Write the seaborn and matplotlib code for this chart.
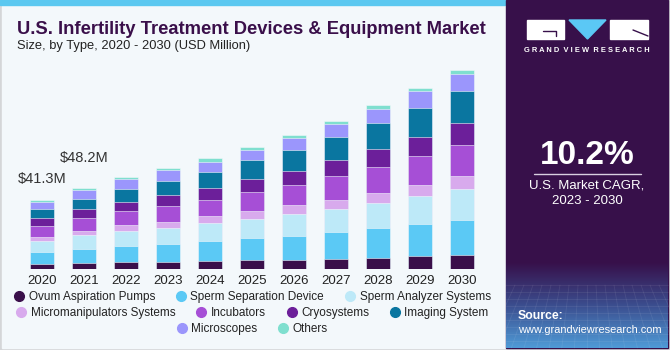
import numpy as np
import pandas as pd
import seaborn as sns
import matplotlib.pyplot as plt
from matplotlib.patches import Rectangle, Polygon
from matplotlib.lines import Line2D
from matplotlib.colors import LinearSegmentedColormap

# Data (USD Million)
years = [str(y) for y in range(2020, 2031)]
ovum = [2.7, 3.6, 4.0, 4.0, 4.6, 5.2, 5.2, 5.8, 6.6, 7.8, 8.4]
sperm_sep = [7.3, 8.6, 9.6, 10.8, 12.0, 13.2, 14.8, 16.4, 17.8, 19.4, 21.2]
sperm_analyzer = [6.8, 8.0, 9.0, 9.6, 10.8, 11.8, 12.8, 13.6, 15.2, 16.6, 18.4]
micromanip = [2.5, 2.8, 3.6, 4.0, 4.2, 4.4, 5.2, 5.4, 5.8, 6.6, 7.6]
incubators = [6.4, 7.4, 8.2, 9.2, 9.6, 11.4, 12.2, 14.4, 15.8, 17.2, 18.6]
cryo = [4.6, 5.2, 5.8, 6.6, 7.2, 7.6, 8.6, 9.6, 10.8, 11.6, 13.0]
imaging = [5.8, 6.4, 7.4, 8.6, 9.8, 11.4, 12.6, 13.8, 15.2, 17.2, 19.0]
microscopes = [4.2, 5.2, 6.2, 6.2, 6.0, 6.2, 7.0, 8.0, 8.2, 9.8, 10.6]
others = [1.0, 1.0, 1.0, 1.2, 2.0, 1.6, 1.6, 1.8, 2.6, 1.8, 2.0]

segments = ['Ovum Aspiration Pumps', 'Sperm Separation Device', 'Sperm Analyzer Systems',
            'Micromanipulators Systems', 'Incubators', 'Cryosystems', 'Imaging System',
            'Microscopes', 'Others']
colors = ['#3a0f4a', '#5bc9f5', '#bde9f8', '#d8aaed', '#a64fd6', '#6c1f9a', '#0a76a0',
          '#9b96fc', '#7fdfcf']
labeled_years = ['2020', '2021']
label_offsets = [15, 22]  # points above bar top

df = pd.DataFrame(dict(zip(segments, [ovum, sperm_sep, sperm_analyzer, micromanip,
                                      incubators, cryo, imaging, microscopes, others])),
                  index=years)
cum = df.cumsum(axis=1)
totals = df.sum(axis=1)

sns.set_style('white')
plt.rcParams['font.family'] = ['Liberation Sans', 'DejaVu Sans']

W, H = 670, 350
fig = plt.figure(figsize=(6.7, 3.5), dpi=100)
fig.patch.set_facecolor('#d4d6d8')

# background layer in pixel coords
bg = fig.add_axes([0, 0, 1, 1])
bg.set_xlim(0, W)
bg.set_ylim(H, 0)
bg.axis('off')
bg.add_patch(Rectangle((2, 0), 504, 348, color='#f3f8fb'))
bg.add_patch(Rectangle((0, 0), 505, 5, color='#5bc8f0'))
bg.add_patch(Rectangle((506, 0), 162, 348, color='#37104a'))

# panel bottom gradient
grad = np.linspace(0, 1, 100).reshape(-1, 1)
cmap = LinearSegmentedColormap.from_list('g', ['#37104a', '#3b4d8e', '#4f9ad6'])
bg.imshow(grad, cmap=cmap, extent=(506, 668, 348, 262), aspect='auto', zorder=1)
for yy in range(285, 348, 7):
    bg.plot([506, 668], [yy, yy], color='white', alpha=0.08, lw=0.6, zorder=2)
for xx in range(506, 668, 9):
    bg.plot([xx, xx + (xx - 587) * 0.4], [285, 348], color='white', alpha=0.08, lw=0.6, zorder=2)

# logo
bg.add_patch(Rectangle((527, 20), 37, 19, color='white', zorder=3))
bg.plot([543, 556, 556], [31, 31, 36], color='#37104a', lw=1.0, zorder=4)
bg.add_patch(Polygon([(569, 20), (606, 20), (587.5, 39)], color='#5bc8f5', zorder=3))
bg.add_patch(Rectangle((610, 20), 38, 19, color='white', zorder=3))
bg.plot([633, 648], [30, 36], color='#37104a', lw=1.0, zorder=4)
bg.text(587, 51, 'G R A N D  V I E W  R E S E A R C H', color='white', fontsize=5.4,
        fontweight='bold', ha='center', va='center', zorder=4)

bg.text(587, 155, '10.2%', color='white', fontsize=24, fontweight='bold',
        ha='center', va='center')
bg.plot([534, 641], [173.5, 173.5], color='#d8cfe0', lw=1)
bg.text(587, 186, 'U.S. Market CAGR,', color='white', fontsize=9.5, ha='center', va='center')
bg.text(587, 201, '2023 - 2030', color='white', fontsize=9.5, ha='center', va='center')
bg.text(518, 316, 'Source:', color='white', fontsize=8.8, fontweight='bold', va='center', zorder=4)
bg.text(518, 330, 'www.grandviewresearch.com', color='white', fontsize=7.9,
        va='center', zorder=4)

# titles
bg.text(17, 30, 'U.S. Infertility Treatment Devices & Equipment Market', color='#3a0f4a',
        fontsize=13.2, fontweight='bold', va='center')
bg.text(17, 46, 'Size, by Type, 2020 - 2030 (USD Million)', color='#222222',
        fontsize=9.3, va='center')

# bars
ax = fig.add_axes([21 / W, 81 / H, 462 / W, 209 / H])
ax.patch.set_alpha(0)
for seg, col in reversed(list(zip(segments, colors))):
    sns.barplot(x=years, y=cum[seg].values, color=col, width=0.58, ax=ax,
                edgecolor='#f3f8fb', linewidth=0.4, saturation=1)
ax.set_ylim(0, 125)
ax.set_xlim(-0.5, 10.5)
ax.set_yticks([])
ax.set_ylabel('')
ax.tick_params(axis='x', length=0, pad=4, labelsize=9.5, labelcolor='#222222')
sns.despine(ax=ax, left=True, bottom=True)

for yr, off in zip(labeled_years, label_offsets):
    i = years.index(yr)
    ax.annotate(f'${totals[yr]:.1f}M', (i, totals[yr]), xytext=(0, off),
                textcoords='offset points', ha='center', va='center',
                fontsize=10.5, color='#333333')

# legend rows
handles = [Line2D([], [], marker='o', ls='', color=c, markersize=7) for c in colors]
rows = [(0, 3, 297), (3, 7, 313), (7, 9, 329)]
for a, b, y in rows:
    fig.legend(handles[a:b], segments[a:b], ncol=b - a, loc='center',
               bbox_to_anchor=(252 / W, 1 - y / H), frameon=False, fontsize=8.5,
               handletextpad=0.3, columnspacing=1.7, handlelength=1.0,
               borderpad=0, borderaxespad=0, labelcolor='#222222')

plt.savefig('out.png', dpi=100, facecolor=fig.get_facecolor())
